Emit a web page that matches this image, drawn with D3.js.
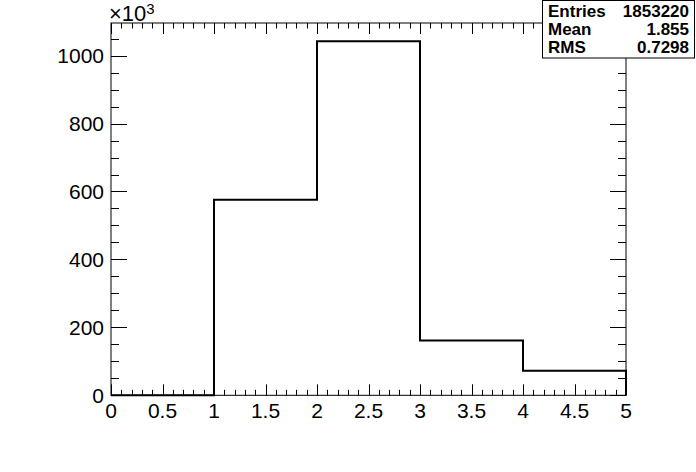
<!DOCTYPE html>
<html><head><meta charset="utf-8">
<script src="https://cdn.jsdelivr.net/npm/d3@7/dist/d3.min.js"></script>
<style>body{margin:0;background:#fff}svg{display:block}text{font-family:"Liberation Sans",Arial,sans-serif}</style>
</head><body>
<script>
// bin edges and contents (in units of 10^3)
const binEdges = [0, 1, 2, 3, 4, 5];
const binValues = [0, 576, 1042, 161, 72];
const xTicks = [0, 0.5, 1, 1.5, 2, 2.5, 3, 3.5, 4, 4.5, 5];
const yTicks = [0, 200, 400, 600, 800, 1000];
const statsLabels = ["Entries", "Mean", "RMS"];
const statsValues = ["1853220", "1.855", "0.7298"];
const yMax = 1096;

const W = 696, H = 472;
const L = 111, R = 626, T = 23, B = 395.3;
const svg = d3.select("body").append("svg").attr("width", W).attr("height", H);
const x = d3.scaleLinear().domain([0, 5]).range([L, R]);
const y = d3.scaleLinear().domain([0, yMax]).range([B, T]);

// frame
svg.append("rect").attr("x", L).attr("y", T).attr("width", R - L).attr("height", B - T)
  .attr("fill", "none").attr("stroke", "#000").attr("stroke-width", 1);

const xMinor = d3.range(0, 5.0001, 0.1);
const yMinor = d3.range(0, yMax, 50);
const g = svg.append("g").attr("stroke", "#000").attr("stroke-width", 1);
// x ticks bottom & top
xMinor.forEach(v => {
  const major = Math.abs(v * 2 - Math.round(v * 2)) < 1e-6;
  const len = major ? 11 : 5.5;
  const px = Math.round(x(v)) + 0.5;
  g.append("line").attr("x1", px).attr("x2", px).attr("y1", B).attr("y2", B - len);
  g.append("line").attr("x1", px).attr("x2", px).attr("y1", T).attr("y2", T + len);
});
// y ticks left & right
yMinor.forEach(v => {
  const major = v % 200 === 0;
  const len = major ? 16 : 8;
  const py = Math.round(y(v)) + 0.5;
  g.append("line").attr("x1", L).attr("x2", L + len).attr("y1", py).attr("y2", py);
  g.append("line").attr("x1", R).attr("x2", R - len).attr("y1", py).attr("y2", py);
});

// tick labels
svg.append("g").selectAll("text").data(xTicks).join("text")
  .attr("x", d => x(d)).attr("y", 418).attr("text-anchor", "middle")
  .attr("font-size", 21).text(d => d3.format("")(d));
svg.append("g").selectAll("text").data(yTicks).join("text")
  .attr("x", L - 7).attr("y", d => y(d) + 7.5).attr("text-anchor", "end")
  .attr("font-size", 21).text(d => d);

// exponent
const ex = svg.append("text").attr("x", 109).attr("y", 21).attr("font-size", 22);
ex.append("tspan").text("\u00d710");
ex.append("tspan").attr("dy", -7).attr("font-size", 15).text("3");

// histogram
let pts = [[binEdges[0], 0]];
binValues.forEach((v, i) => { pts.push([binEdges[i], v]); pts.push([binEdges[i + 1], v]); });
pts.push([binEdges[binEdges.length - 1], 0]);
const line = d3.line().x(d => x(d[0])).y(d => y(d[1]));
svg.append("path").attr("d", line(pts)).attr("fill", "none").attr("stroke", "#000")
  .attr("stroke-width", 2).attr("stroke-linejoin", "miter");

// stats box
const bx = 542, by = 0.5, bw = 152, bh = 57.5;
svg.append("rect").attr("x", bx + 0.5).attr("y", by).attr("width", bw).attr("height", bh)
  .attr("fill", "#fff").attr("stroke", "#000").attr("stroke-width", 1);
statsLabels.forEach((s, i) => {
  svg.append("text").attr("x", bx + 6).attr("y", 16.5 + i * 18.2).attr("font-size", 17)
    .attr("font-weight", "bold").text(s);
  svg.append("text").attr("x", bx + bw - 5).attr("y", 16.5 + i * 18.2).attr("font-size", 17)
    .attr("font-weight", "bold").attr("text-anchor", "end").text(statsValues[i]);
});
</script>
</body></html>
